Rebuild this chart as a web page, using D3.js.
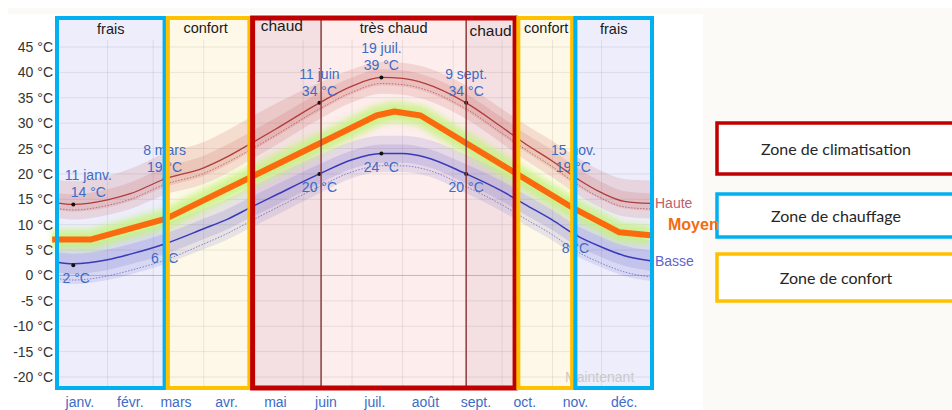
<!DOCTYPE html>
<html>
<head>
<meta charset="utf-8">
<script src="https://cdn.jsdelivr.net/npm/d3@7"></script>
<style>
	body { margin: 0; background: #fff; }
	text { font-family: "Liberation Sans", Arial, sans-serif; }
</style>
</head>
<body>
<script>
const width = 952,
	  height = 410;

// knots (daily high / low and their bands)
var knotDates = ["2023-01-01", "2023-01-11", "2023-02-01", "2023-02-15", "2023-03-08", "2023-04-01",
	"2023-04-15", "2023-05-01", "2023-05-15", "2023-06-11", "2023-07-01", "2023-07-19", "2023-08-01",
	"2023-08-15", "2023-09-09", "2023-10-01", "2023-10-15", "2023-11-01", "2023-11-15", "2023-12-01",
	"2023-12-15", "2023-12-31"];

var haute    = [14.3, 14.0, 14.9, 16.1, 19.0, 21.2, 23.3, 26.2, 28.8, 34.0, 37.3, 39.0, 38.8, 37.8, 34.0, 29.2, 26.0, 22.5, 19.3, 16.3, 14.6, 14.2];
var hauteP90 = [18.8, 18.6, 19.6, 21.0, 24.0, 26.3, 28.5, 31.4, 33.8, 38.0, 40.6, 42.1, 41.9, 41.0, 37.4, 32.8, 29.8, 26.5, 23.5, 20.6, 19.0, 18.7];
var hauteP75 = [16.2, 16.0, 17.0, 18.3, 21.3, 23.6, 25.7, 28.5, 31.0, 36.0, 39.0, 40.6, 40.4, 39.4, 35.8, 31.1, 28.0, 24.6, 21.4, 18.4, 16.6, 16.2];
var hauteP25 = [12.9, 12.6, 13.4, 14.6, 17.4, 19.6, 21.7, 24.6, 27.2, 32.4, 35.7, 37.4, 37.2, 36.2, 32.4, 27.6, 24.4, 20.9, 17.8, 14.9, 13.2, 12.8];
var hauteP10 = [11.3, 11.0, 11.9, 13.1, 15.9, 18.0, 20.1, 23.0, 25.6, 30.8, 34.1, 35.8, 35.6, 34.6, 30.8, 26.0, 22.8, 19.3, 16.2, 13.3, 11.6, 11.2];
var hauteRes = [13.2, 12.9, 13.8, 15.0, 17.9, 20.1, 22.2, 25.0, 27.6, 32.8, 36.1, 37.8, 37.6, 36.6, 32.8, 28.0, 24.9, 21.4, 18.2, 15.2, 13.5, 13.1];

var basse    = [2.6, 2.3, 3.1, 4.2, 6.2, 9.2, 11.0, 13.6, 15.8, 20.0, 22.8, 24.0, 24.0, 23.3, 20.0, 16.6, 14.0, 10.9, 8.0, 5.6, 3.9, 2.9];
var basseP90 = [6.6, 6.3, 7.1, 8.2, 10.2, 13.2, 15.0, 17.6, 19.8, 23.8, 26.4, 27.5, 27.5, 26.9, 23.8, 20.5, 18.0, 14.9, 12.0, 9.6, 7.9, 6.9];
var basseP75 = [4.6, 4.3, 5.1, 6.2, 8.2, 11.2, 13.0, 15.6, 17.8, 21.9, 24.6, 25.8, 25.8, 25.1, 21.9, 18.6, 16.0, 12.9, 10.0, 7.6, 5.9, 4.9];
var basseP25 = [0.6, 0.3, 1.1, 2.2, 4.2, 7.2, 9.0, 11.6, 13.8, 18.1, 21.0, 22.2, 22.2, 21.5, 18.1, 14.6, 12.0, 8.9, 6.0, 3.6, 1.9, 0.9];
var basseP10 = [-1.4, -1.7, -0.9, 0.2, 2.2, 5.2, 7.0, 9.6, 11.8, 16.2, 19.2, 20.4, 20.4, 19.7, 16.2, 12.6, 10.0, 6.9, 4.0, 1.6, -0.1, -1.1];
var basseRes = [-0.6, -0.9, -0.1, 1.0, 3.0, 6.2, 8.2, 10.9, 13.2, 17.5, 20.4, 21.6, 21.6, 20.9, 17.5, 13.9, 11.2, 8.0, 4.9, 2.4, 0.7, -0.3];

// orange "Moyen" polyline drawn over the chart
var moyenDates = ["2022-12-29", "2023-01-22", "2023-03-09", "2023-07-16", "2023-07-27", "2023-08-12", "2023-11-14", "2023-12-12", "2023-12-31"];
var moyen      = [7.1, 7.1, 11.2, 31.5, 32.3, 31.5, 13.2, 8.5, 7.9];

// annotations
var annotDates  = ["2023-01-11", "2023-03-08", "2023-06-11", "2023-07-19", "2023-09-09", "2023-11-15"];
var annotLabels = ["11 janv.", "8 mars", "11 juin", "19 juil.", "9 sept.", "15 nov."];
var annotHaute  = [14, 19, 34, 39, 34, 19];
var annotBasse  = [2, 6, 20, 24, 20, 8];

var months = ["janv.", "févr.", "mars", "avr.", "mai", "juin", "juil.", "août", "sept.", "oct.", "nov.", "déc."];
var yTicks = [45, 40, 35, 30, 25, 20, 15, 10, 5, 0, -5, -10, -15, -20];

// zones
var boxStart = ["2023-01-01", "2023-03-10", "2023-05-01", "2023-10-11", "2023-11-15"];
var boxEnd   = ["2023-03-08", "2023-04-29", "2023-10-09", "2023-11-13", "2024-01-01"];
var boxType  = ["chauffage", "confort", "clim", "confort", "chauffage"];

var zoneStart = ["2023-01-01", "2023-03-10", "2023-05-01", "2023-06-12", "2023-09-09", "2023-10-11", "2023-11-15"];
var zoneEnd   = ["2023-03-08", "2023-04-29", "2023-06-12", "2023-09-09", "2023-10-09", "2023-11-13", "2024-01-01"];
var zoneNames = ["frais", "confort", "chaud", "très chaud", "chaud", "confort", "frais"];

var legendLabels = ["Zone de climatisation", "Zone de chauffage", "Zone de confort"];
var legendTypes  = ["clim", "chauffage", "confort"];

var parse = d3.timeParse("%Y-%m-%d");

var borderColor = { clim: "#c00000", chauffage: "#00b0f0", confort: "#ffc000" };
var zoneFill = { "frais": "#ededfc", "confort": "#fef8e8", "chaud": "#f4e0e2", "très chaud": "#fdeded" };

var x = d3.scaleTime()
	.domain([new Date(2023, 0, 1), new Date(2024, 0, 1)])
	.range([57, 652]);

var y = d3.scaleLinear()
	.domain([-20, 45])
	.range([377, 47]);

var plotTop = 18, plotBottom = 388;

var svg = d3.select("body").append("svg")
	.attr("width", width)
	.attr("height", height);

// page backgrounds
svg.append("rect").attr("x", 0).attr("y", 0).attr("width", width).attr("height", height).attr("fill", "#fff");
svg.append("rect").attr("x", 8).attr("y", 8).attr("width", width - 8).attr("height", height - 8).attr("fill", "#fbfaf6");
svg.append("rect").attr("x", 0).attr("y", 14).attr("width", 703).attr("height", height - 14).attr("fill", "#fff");

var defs = svg.append("defs");
defs.append("filter").attr("id", "glow")
	.attr("x", "-10%").attr("y", "-50%").attr("width", "120%").attr("height", "200%")
	.append("feGaussianBlur").attr("stdDeviation", 3);

// zone fills
var zones = zoneNames.map((n, i) => ({ name: n, s: parse(zoneStart[i]), e: parse(zoneEnd[i]) }));
svg.append("g").selectAll("rect")
	.data(zones)
	.enter().append("rect")
	.attr("x", d => x(d.s))
	.attr("y", plotTop)
	.attr("width", d => x(d.e) - x(d.s))
	.attr("height", plotBottom - plotTop)
	.attr("fill", d => zoneFill[d.name]);

// grid
var grid = svg.append("g");
grid.selectAll(".h")
	.data(yTicks)
	.enter().append("line")
	.attr("x1", 57).attr("x2", 652)
	.attr("y1", d => y(d)).attr("y2", d => y(d))
	.attr("stroke", "#000")
	.attr("stroke-opacity", d => d == 0 ? 0.22 : 0.08);
grid.selectAll(".v")
	.data(d3.timeMonth.range(new Date(2023, 1, 1), new Date(2024, 0, 1)))
	.enter().append("line")
	.attr("x1", d => x(d)).attr("x2", d => x(d))
	.attr("y1", 40).attr("y2", plotBottom)
	.attr("stroke", "#000")
	.attr("stroke-opacity", 0.08);

// series rows
var rows = knotDates.map((k, i) => ({
	date: parse(k),
	haute: haute[i], h90: hauteP90[i], h75: hauteP75[i], h25: hauteP25[i], h10: hauteP10[i], hres: hauteRes[i],
	basse: basse[i], b90: basseP90[i], b75: basseP75[i], b25: basseP25[i], b10: basseP10[i], bres: basseRes[i]
}));

var band = function (lo, hi) {
	return d3.area()
		.x(d => x(d.date))
		.y0(d => y(d[lo]))
		.y1(d => y(d[hi]))
		.curve(d3.curveMonotoneX);
};
var line = function (key) {
	return d3.line()
		.x(d => x(d.date))
		.y(d => y(d[key]))
		.curve(d3.curveMonotoneX);
};

var series = svg.append("g");
series.append("path").datum(rows).attr("d", band("h10", "h90")).attr("fill", "#c0504d").attr("fill-opacity", 0.16);
series.append("path").datum(rows).attr("d", band("h25", "h75")).attr("fill", "#c0504d").attr("fill-opacity", 0.16);
series.append("path").datum(rows).attr("d", band("b10", "b90")).attr("fill", "#4a4ac0").attr("fill-opacity", 0.13);
series.append("path").datum(rows).attr("d", band("b25", "b75")).attr("fill", "#4a4ac0").attr("fill-opacity", 0.14);

series.append("path").datum(rows).attr("d", line("hres"))
	.attr("fill", "none").attr("stroke", "#b04848").attr("stroke-width", 1).attr("stroke-dasharray", "1.5,1.5").attr("stroke-opacity", 0.7);
series.append("path").datum(rows).attr("d", line("bres"))
	.attr("fill", "none").attr("stroke", "#5a5ac0").attr("stroke-width", 1).attr("stroke-dasharray", "1.5,1.5").attr("stroke-opacity", 0.7);
series.append("path").datum(rows).attr("d", line("haute"))
	.attr("fill", "none").attr("stroke", "#b03c3c").attr("stroke-width", 1.3);
series.append("path").datum(rows).attr("d", line("basse"))
	.attr("fill", "none").attr("stroke", "#3a3ab8").attr("stroke-width", 1.5);

// Moyen
var moy = moyenDates.map((k, i) => ({ date: parse(k), v: moyen[i] }));
var moyLine = d3.line().x(d => x(d.date)).y(d => y(d.v));
series.append("path").datum(moy).attr("d", moyLine)
	.attr("fill", "none").attr("stroke", "#c4f27a").attr("stroke-width", 20)
	.attr("stroke-opacity", 0.8).attr("filter", "url(#glow)");
series.append("path").datum(moy).attr("d", moyLine)
	.attr("fill", "none").attr("stroke", "#fb6a0c").attr("stroke-width", 6)
	.attr("stroke-linejoin", "round");

// annotations
var annots = annotDates.map((k, i) => ({ date: parse(k), label: annotLabels[i], h: annotHaute[i], b: annotBasse[i], i: i }));
var hiShift = [15, 0, 0, 0, 0, -2];
var loShift = [3, 0, 0, 0, 0, 0];
var ann = svg.append("g").style("font-size", "14px").attr("fill", "#3d6bc6").attr("text-anchor", "middle");
ann.selectAll(".dh").data(annots).enter().append("circle")
	.attr("cx", d => x(d.date)).attr("cy", d => y(d.h)).attr("r", 2).attr("fill", "#111");
ann.selectAll(".db").data(annots).enter().append("circle")
	.attr("cx", d => x(d.date)).attr("cy", d => y(d.b)).attr("r", 2).attr("fill", "#111");
ann.selectAll(".t1").data(annots).enter().append("text")
	.attr("x", d => x(d.date) + hiShift[d.i]).attr("y", d => y(d.h) - 24)
	.text(d => d.label);
ann.selectAll(".t2").data(annots).enter().append("text")
	.attr("x", d => x(d.date) + hiShift[d.i]).attr("y", d => y(d.h) - 7)
	.text(d => d.h + " °C");
ann.selectAll(".t3").data(annots).enter().append("text")
	.attr("x", d => x(d.date) + loShift[d.i]).attr("y", d => y(d.b) + 18)
	.text(d => d.b + " °C");

svg.append("text")
	.attr("x", 565).attr("y", 382)
	.attr("fill", "#cacaca").style("font-size", "14px")
	.text("Maintenant");

// sub-zone dividers inside the red box
svg.append("g").selectAll("line")
	.data([zones[3].s, zones[3].e])
	.enter().append("line")
	.attr("x1", d => x(d)).attr("x2", d => x(d))
	.attr("y1", plotTop).attr("y2", plotBottom)
	.attr("stroke", "#8c3c3c").attr("stroke-width", 1.5);

// zone borders
var boxes = boxType.map((t, i) => ({ type: t, s: parse(boxStart[i]), e: parse(boxEnd[i]) }));
svg.append("g").selectAll("rect")
	.data(boxes)
	.enter().append("rect")
	.attr("x", d => x(d.s))
	.attr("y", plotTop)
	.attr("width", d => x(d.e) - x(d.s))
	.attr("height", plotBottom - plotTop)
	.attr("fill", "none")
	.attr("stroke", d => borderColor[d.type])
	.attr("stroke-width", d => d.type == "clim" ? 5 : 4);

// zone titles
var titleDx = [0, -3, -5, 0, 0, 1, 0];
var titleY = [34, 33, 31, 33, 36, 33, 34];
svg.append("g").selectAll("text")
	.data(zones)
	.enter().append("text")
	.attr("x", (d, i) => (x(d.s) + x(d.e)) / 2 + titleDx[i])
	.attr("y", (d, i) => titleY[i])
	.attr("text-anchor", "middle")
	.attr("fill", "#1a1a1a")
	.style("font-size", d => d.name == "chaud" ? "15.5px" : "14.5px")
	.text(d => d.name);

// axes labels
svg.append("g").selectAll("text")
	.data(yTicks)
	.enter().append("text")
	.attr("x", 53).attr("y", d => y(d) + 5)
	.attr("text-anchor", "end")
	.attr("fill", "#333")
	.style("font-size", "14px")
	.text(d => d + " °C");

svg.append("g").selectAll("text")
	.data(months)
	.enter().append("text")
	.attr("x", (d, i) => x(new Date(2023, i, 15)))
	.attr("y", 407)
	.attr("text-anchor", "middle")
	.attr("fill", "#3d6bc6")
	.style("font-size", "14px")
	.text(d => d);

// legend boxes
var legY = [123, 194, 254], legH = [51, 43, 47];
var leg = svg.append("g").selectAll("g")
	.data(legendLabels)
	.enter().append("g");
leg.append("rect")
	.attr("x", 717).attr("y", (d, i) => legY[i])
	.attr("width", 250).attr("height", (d, i) => legH[i])
	.attr("fill", "#fff")
	.attr("stroke", (d, i) => borderColor[legendTypes[i]])
	.attr("stroke-width", 3.5);
leg.append("text")
	.attr("x", 836).attr("y", (d, i) => legY[i] + legH[i] / 2 + 6)
	.attr("text-anchor", "middle")
	.attr("fill", "#262626")
	.style("font-family", "Lato, 'Open Sans', sans-serif")
	.style("font-size", "16px")
	.text(d => d);

// series names at the right end
svg.append("text").attr("x", 655).attr("y", y(haute[haute.length - 1]) + 5)
	.attr("fill", "#c0606a").style("font-size", "14px").text("Haute");
svg.append("text").attr("x", 668).attr("y", y(moyen[moyen.length - 1]) - 5)
	.attr("fill", "#f26b0f").style("font-size", "16px").style("font-weight", "bold").text("Moyen");
svg.append("text").attr("x", 655).attr("y", y(basse[basse.length - 1]) + 5)
	.attr("fill", "#6464c8").style("font-size", "14px").text("Basse");
</script>
</body>
</html>
